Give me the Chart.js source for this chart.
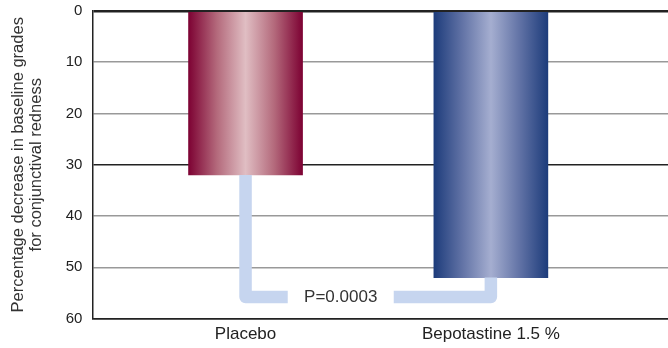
<!DOCTYPE html>
<html>
<head>
<meta charset="utf-8">
<script src="https://cdn.jsdelivr.net/npm/chart.js@4.4.1/dist/chart.umd.min.js"></script>
<style>
  html, body { margin: 0; padding: 0; background: #fff; }
  #wrap { width: 668px; height: 348px; }
</style>
</head>
<body>
<div id="wrap"><canvas id="barChart"></canvas></div>
<script>
const categories = ["Placebo", "Bepotastine 1.5 %"];
const decreaseValues = [32, 52];
const yTicks = [0, 10, 20, 30, 40, 50, 60];
const pValueLabel = "P=0.0003";

// edge / quarter / centre colours for the shaded bars
const barShades = [
  ["#7d0233", "#b46a7c", "#e0bec3"],
  ["#1d3c7b", "#6273a6", "#a5aed0"]
];

// bars sit at x = 1 and x = 2 on a linear axis
const xPositions = categories.map((c, i) => i + 1);

const shadePlugin = {
  id: "shade",
  beforeDatasetsDraw(chart) {
    const ctx = chart.ctx;
    chart.getDatasetMeta(0).data.forEach((bar, i) => {
      const left = bar.x - bar.width / 2;
      const g = ctx.createLinearGradient(left, 0, left + bar.width, 0);
      const s = barShades[i];
      g.addColorStop(0, s[0]);
      g.addColorStop(0.25, s[1]);
      g.addColorStop(0.5, s[2]);
      g.addColorStop(0.75, s[1]);
      g.addColorStop(1, s[0]);
      // options object is shared between bars, so give each its own copy
      bar.options = Object.assign({}, bar.options, { backgroundColor: g });
    });
  }
};

// light blue bracket between the two bar ends with the p value
const bracketPlugin = {
  id: "bracket",
  afterDatasetsDraw(chart) {
    const { ctx, scales: { x, y } } = chart;
    const x1 = x.getPixelForValue(xPositions[0]);
    const x2 = x.getPixelForValue(xPositions[1]);
    const yLow = y.getPixelForValue(55.8);
    const y1 = y.getPixelForValue(decreaseValues[0]);
    const y2 = y.getPixelForValue(decreaseValues[1]);
    const tx = x.getPixelForValue(1.388);
    const gap = 53;

    ctx.save();
    ctx.strokeStyle = "#c6d5ef";
    ctx.lineWidth = 12.5;
    ctx.lineJoin = "round";
    ctx.lineCap = "butt";
    ctx.beginPath();
    ctx.moveTo(x1, y1);
    ctx.lineTo(x1, yLow);
    ctx.lineTo(tx - gap, yLow);
    ctx.stroke();
    ctx.beginPath();
    ctx.moveTo(tx + gap, yLow);
    ctx.lineTo(x2, yLow);
    ctx.lineTo(x2, y2);
    ctx.stroke();

    ctx.fillStyle = "#333";
    ctx.font = "17px 'Liberation Sans', Arial, sans-serif";
    ctx.textAlign = "center";
    ctx.textBaseline = "middle";
    ctx.fillText(pValueLabel, tx, yLow);
    ctx.restore();
  }
};

window.onload = () => {
  const ctx = document.getElementById("barChart").getContext("2d");
  new Chart(ctx, {
    type: "bar",
    data: {
      datasets: [{
        data: xPositions.map((p, i) => ({ x: p, y: decreaseValues[i] })),
        barThickness: 114,
        borderWidth: 0
      }]
    },
    options: {
      responsive: true,
      maintainAspectRatio: false,
      animation: false,
      layout: { padding: { top: 10, right: 0, left: 10, bottom: 5 } },
      plugins: { legend: { display: false }, tooltip: { enabled: false } },
      scales: {
        x: {
          type: "linear",
          offset: false,
          min: 0.3755,
          max: 2.722,
          afterBuildTicks: (axis) => { axis.ticks = xPositions.map(v => ({ value: v })); },
          grid: { display: false, offset: false },
          border: { display: true, color: "#222", width: 1.5 },
          ticks: {
            callback: (v) => categories[v - 1] || "",
            color: "#222",
            padding: -2,
            maxRotation: 0,
            autoSkip: false,
            font: { family: "'Liberation Sans', Arial, sans-serif", size: 17 }
          }
        },
        y: {
          reverse: true,
          min: 0,
          max: 60,
          afterBuildTicks: (axis) => { axis.ticks = yTicks.map(v => ({ value: v })); },
          grid: {
            drawTicks: false,
            color: (c) => (c.tick && c.tick.value % 30 === 0) ? "#222" : "#999",
            lineWidth: (c) => (c.tick && c.tick.value === 0) ? 2.5 : 1.5
          },
          border: { display: true, color: "#222", width: 1.5 },
          ticks: {
            color: "#222",
            padding: 10,
            font: { family: "'Liberation Sans', Arial, sans-serif", size: 15, lineHeight: 0.13 }
          },
          title: {
            display: true,
            text: ["Percentage decrease in baseline grades", "for conjunctival redness"],
            color: "#333",
            padding: { top: 0, bottom: 11 },
            font: { family: "'Liberation Sans', Arial, sans-serif", size: 16.5, lineHeight: 1.05 }
          }
        }
      }
    },
    plugins: [shadePlugin, bracketPlugin]
  });
};
</script>
</body>
</html>
